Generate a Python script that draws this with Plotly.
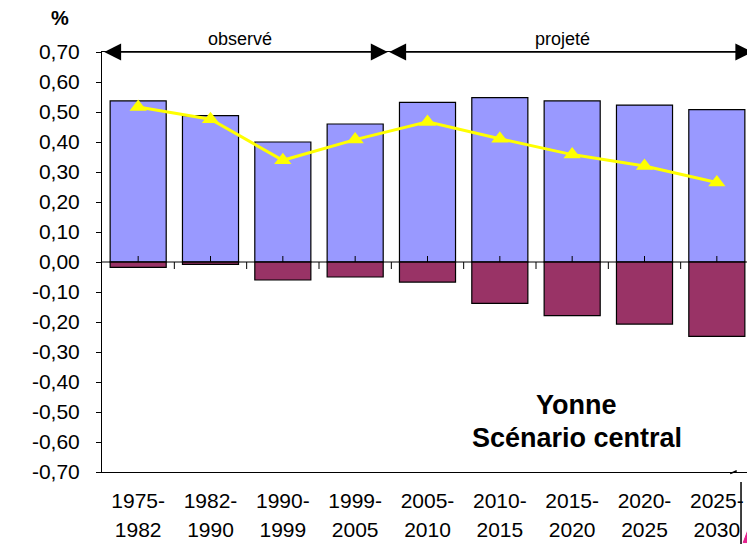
import plotly.graph_objects as go

# ---- data ----
periods = ["1975-1982", "1982-1990", "1990-1999", "1999-2005", "2005-2010",
           "2010-2015", "2015-2020", "2020-2025", "2025-2030"]
positive_part = [0.537, 0.488, 0.400, 0.460, 0.532, 0.548, 0.537, 0.523, 0.508]
negative_part = [-0.018, -0.008, -0.060, -0.050, -0.067, -0.138, -0.179, -0.207, -0.248]
total_rate = [0.517, 0.476, 0.339, 0.408, 0.467, 0.411, 0.358, 0.320, 0.265]
y_tickvals = [0.7, 0.6, 0.5, 0.4, 0.3, 0.2, 0.1, 0.0, -0.1, -0.2, -0.3, -0.4, -0.5, -0.6, -0.7]
y_ticktext = ["0,70", "0,60", "0,50", "0,40", "0,30", "0,20", "0,10", "0,00",
              "-0,10", "-0,20", "-0,30", "-0,40", "-0,50", "-0,60", "-0,70"]
x_line1 = [p.split("-")[0] + "-" for p in periods]
x_line2 = [p.split("-")[1] for p in periods]

FONT = "Liberation Sans, Arial, sans-serif"
n = len(periods)
idx = list(range(n))

fig = go.Figure()
fig.add_trace(go.Bar(x=idx, y=positive_part, width=0.775,
                     marker=dict(color="#9999FF", line=dict(color="black", width=1.2)),
                     showlegend=False))
fig.add_trace(go.Bar(x=idx, y=negative_part, width=0.775,
                     marker=dict(color="#993366", line=dict(color="black", width=1.2)),
                     showlegend=False))
fig.add_trace(go.Scatter(x=idx, y=total_rate, mode="lines+markers",
                         line=dict(color="#FFFF00", width=3),
                         marker=dict(symbol="triangle-up", size=15, color="#FFFF00"),
                         showlegend=False))
# carrier trace for the second line of category labels
fig.add_trace(go.Scatter(x=idx, y=total_rate, xaxis="x2", mode="none",
                         showlegend=False, hoverinfo="skip"))

shapes = []
for i in range(n - 1):
    shapes.append(dict(type="line", xref="x", yref="y", ysizemode="pixel", yanchor=0,
                       x0=i + 0.5, x1=i + 0.5, y0=0, y1=-7,
                       line=dict(color="black", width=1)))
for i in range(n):
    shapes.append(dict(type="line", xref="x", yref="y", ysizemode="pixel", yanchor=0,
                       x0=i, x1=i, y0=0, y1=6,
                       line=dict(color="black", width=1)))
shapes.append(dict(type="line", xref="paper", yref="y", x0=0, x1=1, y0=0, y1=0,
                   line=dict(color="black", width=1)))
# stray decorations bottom right
shapes.append(dict(type="line", xref="paper", yref="paper", x0=0.9816, x1=0.9816,
                   y0=-0.024, y1=-0.175, line=dict(color="black", width=1.5)))
shapes.append(dict(type="line", xref="paper", yref="paper", x0=0.965, x1=0.975,
                   y0=-0.004, y1=0.003, line=dict(color="black", width=1.5)))
shapes.append(dict(type="path", xref="paper", yref="paper",
                   path="M 0.999 -0.11 L 0.985 -0.168 L 0.999 -0.168 Z",
                   fillcolor="#E4208C", line=dict(color="#E4208C", width=1)))

annotations = [
    dict(text="<b>%</b>", xref="paper", yref="paper", x=-0.0645, y=1.081,
         xanchor="center", yanchor="middle",
         showarrow=False, font=dict(size=20, family=FONT, color="black")),
    dict(text="observé", xref="x", yref="paper", x=1.41, y=1.031,
         xanchor="center", yanchor="middle",
         showarrow=False, font=dict(size=18, family=FONT, color="black")),
    dict(text="projeté", xref="x", yref="paper", x=5.87, y=1.031,
         xanchor="center", yanchor="middle",
         showarrow=False, font=dict(size=18, family=FONT, color="black")),
    dict(text="<b>Yonne</b>", xref="paper", yref="paper", x=0.7296, y=0.1595,
         xanchor="center", yanchor="middle",
         showarrow=False, font=dict(size=27, family=FONT, color="black")),
    dict(text="<b>Scénario central</b>", xref="paper", yref="paper", x=0.7296, y=0.081,
         xanchor="center", yanchor="middle",
         showarrow=False, font=dict(size=27, family=FONT, color="black")),
    dict(text="", x=3.45, y=0.7, xref="x", yref="y", ax=-0.49, ay=0.7, axref="x", ayref="y",
         showarrow=True, arrowhead=2, startarrowhead=2, arrowside="end+start",
         arrowsize=2.6, startarrowsize=2.6, arrowwidth=1.3, arrowcolor="black", standoff=0),
    dict(text="", x=8.49, y=0.7, xref="x", yref="y", ax=3.45, ay=0.7, axref="x", ayref="y",
         showarrow=True, arrowhead=2, startarrowhead=2, arrowside="end+start",
         arrowsize=2.6, startarrowsize=2.6, arrowwidth=1.3, arrowcolor="black", standoff=0),
]

# page body has an 8px default margin, so the figure is offset by 8px;
# keep the figure inside the 755x544 window
fig.update_layout(
    width=747, height=536,
    margin=dict(l=94, r=2, t=44, b=72),
    paper_bgcolor="white", plot_bgcolor="white",
    barmode="relative",
    font=dict(family=FONT, size=20, color="black"),
    shapes=shapes,
    annotations=annotations,
    xaxis=dict(range=[-0.5, n - 0.5], tickvals=idx, ticktext=x_line1,
               showline=True, linecolor="black", linewidth=1, mirror=True,
               ticks="", showgrid=False, zeroline=False, automargin=False,
               tickfont=dict(size=21, family=FONT, color="black"),
               ticklabelstandoff=10),
    xaxis2=dict(range=[-0.5, n - 0.5], tickvals=idx, ticktext=x_line2,
                overlaying="x", anchor="y", side="bottom",
                showline=False, ticks="", showgrid=False, zeroline=False, automargin=False,
                tickfont=dict(size=21, family=FONT, color="black"),
                ticklabelstandoff=43),
    yaxis=dict(range=[-0.7, 0.7], tickvals=y_tickvals, ticktext=y_ticktext,
               showline=True, linecolor="black", linewidth=1, mirror=True,
               ticks="outside", ticklen=5, tickcolor="black",
               showgrid=False, zeroline=False, automargin=False,
               tickfont=dict(size=21, family=FONT, color="black"),
               ticklabelstandoff=12),
)

fig.write_html("out.html")
